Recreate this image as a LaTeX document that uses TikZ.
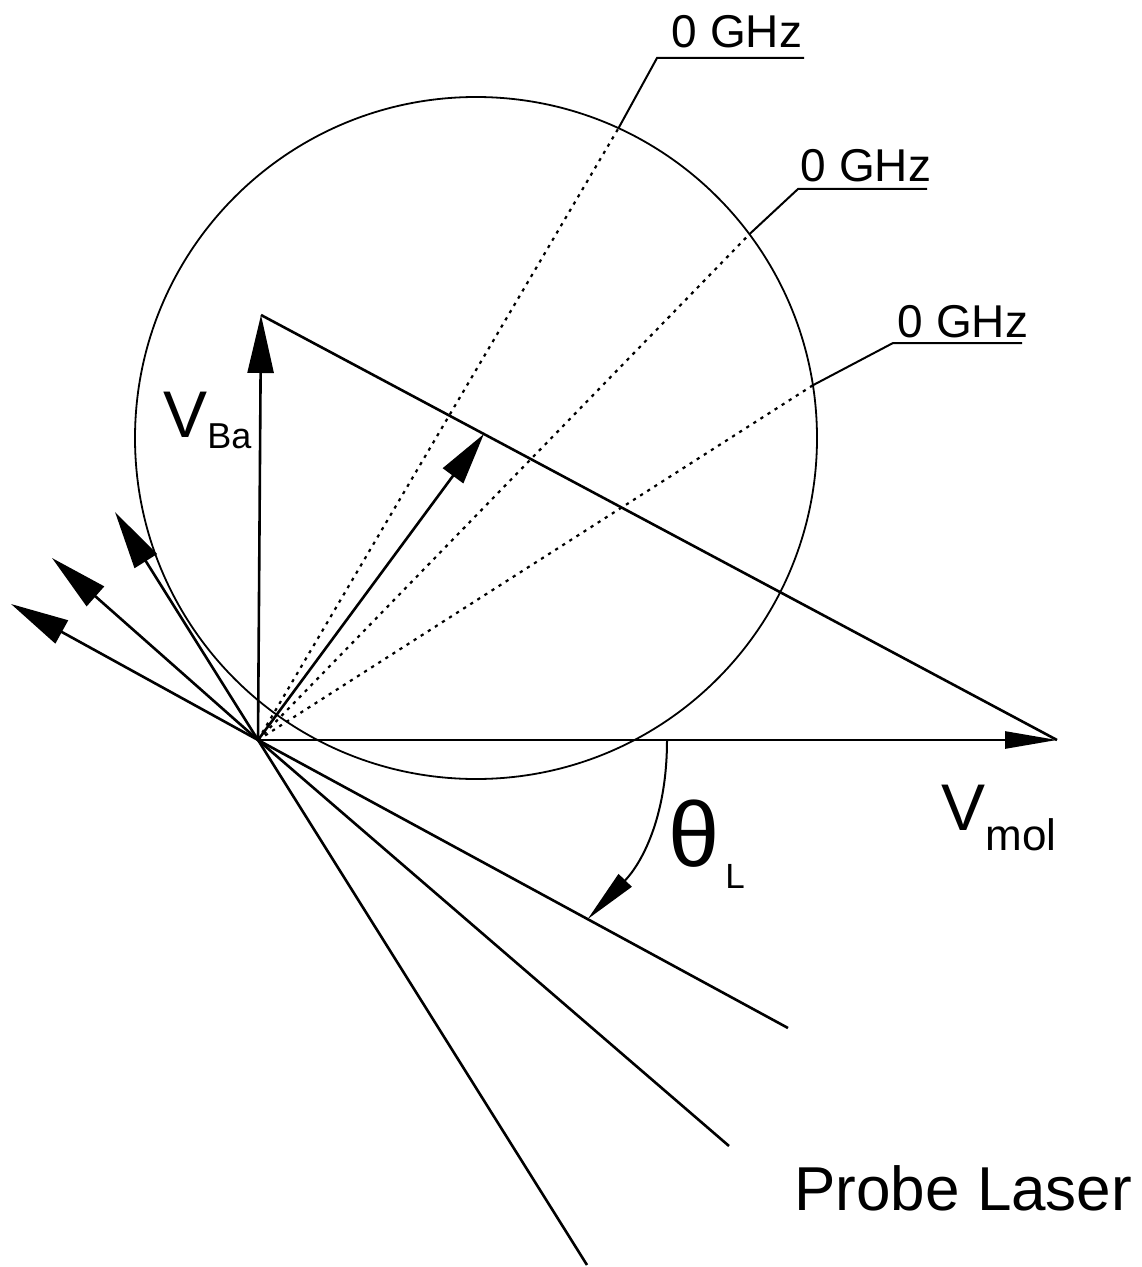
\documentclass[tikz,border=0pt]{standalone}
\usepackage{fontspec}
\setmainfont{Liberation Sans}
\usetikzlibrary{calc,arrows.meta}
\tikzset{
  vec/.style={draw=black,line width=1.3pt},
  bigtip/.style={-{Triangle[length=29pt,width=13pt]}},
  flattip/.style={-{Triangle[length=26pt,width=8.5pt]}},
  circ/.style={draw=black,line width=0.9pt},
  ray/.style={draw=black,line width=1.1pt,dash pattern=on 1.6pt off 2.6pt},
  lead/.style={draw=black,line width=1pt},
  beam/.style={draw=black,line width=1.3pt},
  ghz/.style={inner sep=0pt,anchor=base,font=\fontsize{23}{23}\selectfont},
  sym/.style={inner sep=0pt,anchor=base west},
}
\newcommand{\fs}[1]{\fontsize{#1}{#1}\selectfont}

\begin{document}
\begin{tikzpicture}[x=0.5pt,y=-0.5pt]
\useasboundingbox (0,0) rectangle (1141,1267);
% origin and velocity circle
\coordinate (O) at (258,740);
\coordinate (C) at (476,438);
\draw[circ] (C) circle[radius=341];
% velocity triangle
\coordinate (vb) at (261,315);
\coordinate (vm) at (1057,740);
\coordinate (vr) at ($(vb)!0.28!(vm)$);
\draw[vec] (vb) -- (vm);
\draw[vec,bigtip] (O) -- (vb);
\draw[vec,flattip] (O) -- (vm);
\draw[vec,-{Triangle[length=26pt,width=12.5pt]}] (O) -- (vr);
% zero detuning rays
\coordinate (p1) at ($(C)+(-65.3:341)$);
\coordinate (p2) at ($(C)+(-36.7:341)$);
\coordinate (p3) at ($(C)+(-8.9:341)$);
\draw[ray] (O) -- (p1);
\draw[ray] (O) -- (p2);
\draw[ray] (O) -- (p3);
\coordinate (k1) at (657,58);  \coordinate (u1) at (804,58);
\coordinate (k2) at (798,189); \coordinate (u2) at (927,189);
\coordinate (k3) at (893,343); \coordinate (u3) at (1022,343);
\draw[lead] (p1) -- (k1) -- (u1);
\draw[lead] (p2) -- (k2) -- (u2);
\draw[lead] (p3) -- (k3) -- (u3);
\node[ghz] (g1) at (737,48) {0 GHz};
\node[ghz] (g2) at (866,182) {0 GHz};
\node[ghz] (g3) at (963,337) {0 GHz};
% probe laser directions
\coordinate (L1) at (788,1028);
\coordinate (L2) at (729,1146);
\coordinate (L3) at (587,1265);
\coordinate (b1) at (11,604);
\coordinate (b2) at (52,558);
\coordinate (b3) at (115,512);
\draw[beam] (O) -- (L1);
\draw[beam] (O) -- (L2);
\draw[beam] (O) -- (L3);
\draw[vec,bigtip] (O) -- (b1);
\draw[vec,bigtip] (O) -- (b2);
\draw[vec,bigtip] (O) -- (b3);
% laser angle
\coordinate (t0) at (667,740);
\coordinate (t1) at ($(O)!0.622!(L1)$);
\draw[lead,-{Triangle[length=27pt,width=9pt]}] (t0) .. controls (667,820) and (640,865) .. (t1);
% labels
\node[sym] (vba) at (163,437) {\fs{33}V\raisebox{-5.5pt}{\fs{18}Ba}};
\node[sym] (vmol) at (941,830) {\fs{33}V\raisebox{-10pt}{\fs{22}mol}};
\node[sym] (thl) at (668,866) {\fs{46}θ\raisebox{-11pt}{\fs{17.5}\,L}};
\node[sym] (probe) at (794,1210) {\fs{31}Probe Laser};
\end{tikzpicture}
\end{document}
